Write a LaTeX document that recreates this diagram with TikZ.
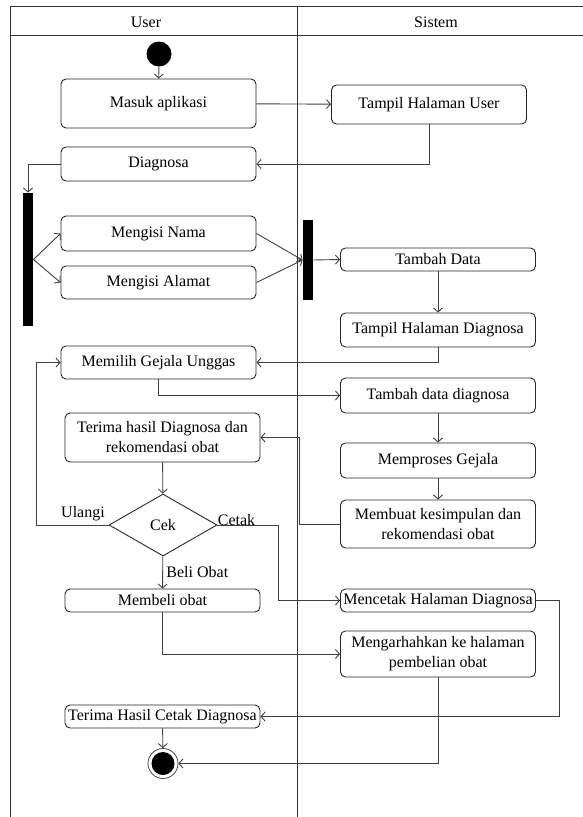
\documentclass[tikz,border=0pt]{standalone}
\usepackage{fontspec}
\setmainfont{Liberation Serif}
\usetikzlibrary{arrows.meta,shapes.geometric}

\begin{document}
\begin{tikzpicture}[x=1pt, y=-1pt, >={Straight Barb[length=4pt,width=9pt]}, line width=0.9pt,
	font=\fontsize{16}{20}\selectfont,
	activity/.style={draw=black!85, rounded corners=5pt, minimum width=195pt, minimum height=#1, inner sep=1pt, align=center},
	activity/.default=34pt,
	bar/.style={fill=black, minimum width=10pt, minimum height=#1, inner sep=0pt},
	decision/.style={diamond, draw=black!85, minimum width=108pt, minimum height=62pt, inner sep=0pt},
	every edge/.style={draw=black!75}]
	\useasboundingbox (0,0) rectangle (583,817);

	% Lanes
	\draw [black!80] (583,6) -- (10,6) -- (10,817);
	\draw [black!80] (10,35) -- (583,35);
	\draw [black!80] (297,6) -- (297,817);
	\node (user) 	at (146,22) {User};
	\node (sistem) 	at (436,22) {Sistem};

	% Nodes {User}
	\node [circle, fill=black, minimum size=25pt, inner sep=0pt] 	(start) 	at (159,54) 	{};
	\node [activity=49pt] 	(masuk) 		at (158.5,103.5) 	{Masuk aplikasi};
	\node [activity] 		(diagnosa) 		at (158.5,164) 		{Diagnosa};
	\node [bar=133pt] 		(fork) 			at (28,259.5) 		{};
	\node [activity=35pt] 	(nama) 			at (158.5,233.5) 	{Mengisi Nama};
	\node [activity=33pt] 	(alamat) 		at (158.5,282.5) 	{Mengisi Alamat};
	\node [activity=33pt] 	(memilih) 		at (158.5,362.5) 	{Memilih Gejala Unggas};
	\node [activity=49pt] 	(terima) 		at (162.5,437.5) 	{Terima hasil Diagnosa dan\\rekomendasi obat};
	\node [decision] 		(cek) 			at (163,525) 		{Cek};
	\node [activity=23pt] 	(membeli) 		at (162.5,600.5) 	{Membeli obat};
	\node [activity=23pt] 	(terimacetak) 	at (162.5,716.5) 	{Terima Hasil Cetak Diagnosa};
	\node [circle, draw=black!80, line width=0.7pt, minimum size=30pt, inner sep=0pt,
		path picture={\fill (path picture bounding box.center) circle (11.5pt);}] 	(end) 	at (163,763.5) 	{};

	% Nodes {Sistem}
	\node [activity=39pt] 	(tampiluser) 	at (429,104.5) 		{Tampil Halaman User};
	\node [bar=80pt] 		(join) 			at (308,260) 		{};
	\node [activity=23pt] 	(tambahdata) 	at (438,259.5) 		{Tambah Data};
	\node [activity] 		(tampildiag) 	at (438,330) 		{Tampil Halaman Diagnosa};
	\node [activity=35pt] 	(tambahdiag) 	at (438,395.5) 		{Tambah data diagnosa};
	\node [activity=35pt] 	(memproses) 	at (438,460.5) 		{Memproses Gejala};
	\node [activity=48pt] 	(membuat) 		at (438,524) 		{Membuat kesimpulan dan\\rekomendasi obat};
	\node [activity=23pt] 	(mencetak) 		at (438,600.5) 		{Mencetak Halaman Diagnosa};
	\node [activity=46pt] 	(mengarahkan) 	at (438,654) 		{Mengarhahkan ke halaman\\pembelian obat};

	% Paths
	\path [->] 	(start) edge 				(masuk);
	\path [->] 	(masuk) edge 				(tampiluser);
	\draw [->, black!75] 	(tampiluser) |- (diagnosa);
	\draw [->, black!75] 	(diagnosa) -| (fork);
	\path [->] 	(fork.east) edge 			(nama.west);
	\path [->] 	(fork.east) edge 			(alamat.west);
	\path [->] 	(nama.east) edge 			(join.west);
	\path [->] 	(alamat.east) edge 			(join.west);
	\path [->] 	(join.east) edge 			(tambahdata.west);
	\path [->] 	(tambahdata) edge 			(tampildiag);
	\draw [->, black!75] 	(tampildiag) |- (memilih);
	\draw [->, black!75] 	(memilih) |- (tambahdiag);
	\path [->] 	(tambahdiag) edge 			(memproses);
	\path [->] 	(memproses) edge 			(membuat);
	\draw [->, black!75] 	(membuat.west) -- ++(-41,0) |- (terima);
	\path [->] 	(terima) edge 				(cek);
	\draw [->, black!75] 	(cek.west) -- node [pos=0, anchor=south east, text=black] {Ulangi} ++(-72,0) |- (memilih);
	\draw [->, black!75] 	(cek.east) -- node [pos=0, anchor=base west, inner sep=0pt, text=black] {Cetak} ++(61,0) |- (mencetak);
	\path [->] 	(cek) edge 	node [right] {Beli Obat} 	(membeli);
	\draw [->, black!75] 	(membeli) |- (mengarahkan);
	\draw [->, black!75] 	(mencetak.east) -- ++(23,0) |- (terimacetak);
	\path [->] 	(terimacetak) edge 			(end);
	\draw [->, black!75] 	(mengarahkan) |- (end);

\end{tikzpicture}
\end{document}
